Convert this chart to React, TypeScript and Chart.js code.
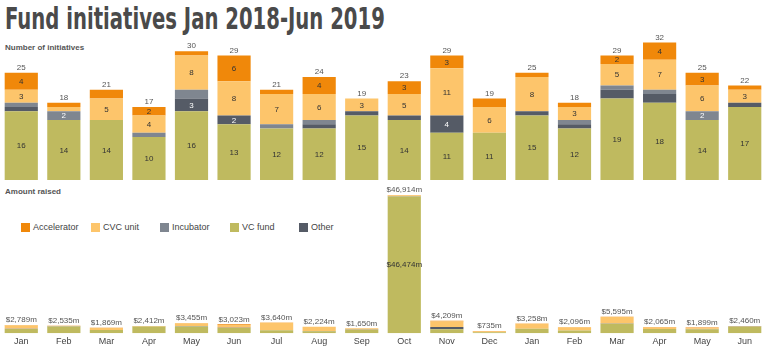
import React, { useEffect, useRef } from "react";
import { Chart, registerables } from "chart.js";
Chart.register(...registerables);

const months = ["Jan", "Feb", "Mar", "Apr", "May", "Jun", "Jul", "Aug", "Sep", "Oct", "Nov", "Dec", "Jan", "Feb", "Mar", "Apr", "May", "Jun"];
const seriesNames = ["VC fund", "Other", "Incubator", "CVC unit", "Accelerator"];
const seriesColors = ["#BFBA5F", "#555B66", "#7F8690", "#FDC56B", "#F0880A"];
const legendOrder = ["Accelerator", "CVC unit", "Incubator", "VC fund", "Other"];

// Number of initiatives
const countVC = [16, 14, 14, 10, 16, 13, 12, 12, 15, 14, 11, 11, 15, 12, 19, 18, 14, 17];
const countOther = [1, 0, 0, 0, 3, 2, 0, 1, 1, 1, 4, 0, 1, 1, 2, 2, 0, 1];
const countIncubator = [1, 2, 0, 1, 2, 0, 1, 1, 0, 0, 0, 0, 0, 1, 1, 1, 2, 0];
const countCVC = [3, 1, 5, 4, 8, 8, 7, 6, 3, 5, 11, 6, 8, 3, 5, 7, 6, 3];
const countAccelerator = [4, 1, 2, 2, 1, 6, 1, 4, 0, 3, 3, 2, 1, 1, 2, 4, 3, 1];
// segments whose value label is not printed in the original ("series:index")
const hiddenCountLabels = ["4:2", "2:4", "4:11", "1:14", "1:15"];

// Amount raised ($m)
const amountVC = [1400, 2300, 1100, 2250, 2300, 1750, 1000, 700, 1200, 46474, 1300, 300, 1500, 900, 3200, 1400, 1300, 2200];
const amountOther = [50, 20, 0, 0, 100, 60, 0, 30, 30, 20, 800, 0, 40, 30, 60, 50, 0, 60];
const amountIncubator = [80, 60, 0, 20, 55, 0, 40, 20, 0, 0, 0, 0, 0, 20, 30, 15, 100, 0];
const amountCVC = [1200, 55, 700, 120, 950, 1000, 2550, 1400, 420, 380, 1900, 235, 1700, 1100, 2200, 450, 300, 180];
const amountAccelerator = [59, 100, 69, 22, 50, 213, 50, 74, 0, 40, 209, 200, 18, 46, 105, 150, 199, 20];

const FONT = "Arial, 'Liberation Sans', sans-serif";
const fmtM = (v: number) => "$" + v.toLocaleString("en-US") + "m";
const darkSeries = [1, 2];

function makeLabelPlugin(kind: "count" | "amount") {
  return {
    id: "segLabels_" + kind,
    afterDatasetsDraw(chart: any) {
      const ctx = chart.ctx;
      ctx.save();
      ctx.textAlign = "center";
      ctx.textBaseline = "middle";
      const n = chart.data.labels.length;
      const nd = chart.data.datasets.length;
      for (let i = 0; i < n; i++) {
        let total = 0;
        for (let d = 0; d < nd; d++) {
          const v = chart.data.datasets[d].data[i] as number;
          total += v;
          const el = chart.getDatasetMeta(d).data[i] as any;
          if (kind === "count") {
            if (v >= 2 && !hiddenCountLabels.includes(d + ":" + i)) {
              ctx.font = "8px " + FONT;
              ctx.fillStyle = darkSeries.includes(d) ? "#ffffff" : "#333333";
              ctx.fillText(String(v), el.x, (el.y + el.base) / 2 + 0.5);
            }
          } else if (d === 0 && v > 20000) {
            ctx.font = "8px " + FONT;
            ctx.fillStyle = "#333333";
            ctx.fillText(fmtM(v), el.x, (el.y + el.base) / 2);
          }
        }
        const top = chart.getDatasetMeta(nd - 1).data[i] as any;
        ctx.font = "8px " + FONT;
        ctx.fillStyle = "#555555";
        ctx.fillText(kind === "count" ? String(total) : fmtM(total), top.x, top.y - 5);
      }
      ctx.restore();
    },
  };
}

function makeDatasets(series: number[][]) {
  return series.map((data, k) => ({
    label: seriesNames[k],
    data,
    backgroundColor: seriesColors[k],
    borderWidth: 0,
    categoryPercentage: 1,
    barPercentage: 0.78,
  }));
}

export default function App() {
  const topRef = useRef<HTMLCanvasElement | null>(null);
  const botRef = useRef<HTMLCanvasElement | null>(null);
  const titleRef = useRef<HTMLDivElement | null>(null);

  useEffect(() => {
    if (titleRef.current) {
      const w = titleRef.current.scrollWidth;
      if (w > 0) titleRef.current.style.transform = `scaleX(${380 / w})`;
    }
    const top = new Chart(topRef.current!, {
      type: "bar",
      data: {
        labels: months,
        datasets: makeDatasets([countVC, countOther, countIncubator, countCVC, countAccelerator]) as any,
      },
      options: {
        responsive: false,
        animation: false,
        layout: { padding: { left: 0, right: 2, top: 0, bottom: 1 } },
        plugins: { legend: { display: false }, tooltip: { enabled: false } },
        scales: {
          x: { stacked: true, display: false },
          y: { stacked: true, display: false, min: 0, max: 34 },
        },
      },
      plugins: [makeLabelPlugin("count")],
    });
    const bot = new Chart(botRef.current!, {
      type: "bar",
      data: {
        labels: months,
        datasets: makeDatasets([amountVC, amountOther, amountIncubator, amountCVC, amountAccelerator]) as any,
      },
      options: {
        responsive: false,
        animation: false,
        layout: { padding: { left: 0, right: 2, top: 1, bottom: 4 } },
        plugins: { legend: { display: false }, tooltip: { enabled: false } },
        scales: {
          x: {
            stacked: true,
            grid: { display: false, drawTicks: false },
            border: { display: false },
            ticks: { color: "#444444", font: { size: 9, family: FONT }, padding: 3, maxRotation: 0 },
          },
          y: { stacked: true, display: false, min: 0, max: 50000 },
        },
      },
      plugins: [makeLabelPlugin("amount")],
    });
    return () => {
      top.destroy();
      bot.destroy();
    };
  }, []);

  const legendColor = (name: string) => seriesColors[seriesNames.indexOf(name)];
  const legendX = [21, 91, 160, 230, 299];

  return (
    <div style={{ position: "absolute", left: 0, top: 0, width: 768, height: 354, background: "#ffffff", overflow: "hidden", fontFamily: FONT }}>
      <div
        ref={titleRef}
        style={{
          position: "absolute", left: 5, top: 1, whiteSpace: "nowrap", transformOrigin: "0 0",
          fontFamily: "'Liberation Sans Narrow', 'DejaVu Sans Condensed', 'Open Sans', sans-serif",
          fontStretch: "condensed", fontWeight: 700, fontSize: 30, lineHeight: "36px", color: "#4a4a4a",
        }}
      >
        Fund initiatives Jan 2018-Jun 2019
      </div>
      <div style={{ position: "absolute", left: 5, top: 43, fontSize: 8, fontWeight: 700, color: "#555555", whiteSpace: "nowrap" }}>
        Number of initiatives
      </div>
      <canvas ref={topRef} width={768} height={147} style={{ position: "absolute", left: 0, top: 34, width: 768, height: 147 }} />
      <div style={{ position: "absolute", left: 5, top: 187, fontSize: 8, fontWeight: 700, color: "#555555", whiteSpace: "nowrap" }}>
        Amount raised
      </div>
      {legendOrder.map((name, k) => (
        <div key={name} style={{ position: "absolute", left: legendX[k], top: 222, height: 10, display: "flex", alignItems: "center", whiteSpace: "nowrap" }}>
          <span style={{ display: "inline-block", width: 9, height: 9, background: legendColor(name), marginRight: 3 }} />
          <span style={{ fontSize: 9, color: "#444444" }}>{name}</span>
        </div>
      ))}
      <canvas ref={botRef} width={768} height={169} style={{ position: "absolute", left: 0, top: 185, width: 768, height: 169 }} />
    </div>
  );
}
